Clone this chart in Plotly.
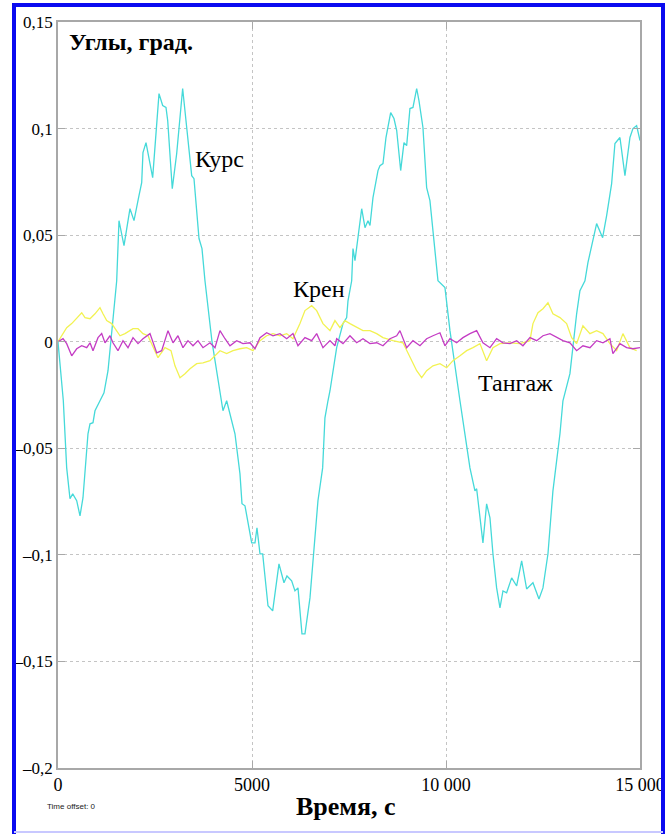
import plotly.graph_objects as go

# ---- data: time (s) and angles (deg) ----
kurs_t = [0, 137, 224, 309, 379, 482, 567, 644, 773, 825,
          902, 953, 1082, 1185, 1289, 1392, 1513, 1572, 1701, 1855,
          1959, 2087, 2157, 2190, 2268, 2440, 2603, 2698, 2783, 2827,
          2945, 3059, 3213, 3317, 3446, 3505, 3634, 3711, 3737, 3788,
          3969, 4123, 4218, 4252, 4347, 4561, 4690, 4742, 4819, 4992,
          5077, 5128, 5206, 5275, 5412, 5533, 5695, 5824, 5901, 6022,
          6107, 6185, 6288, 6365, 6494, 6571, 6700, 6821, 6880, 6958,
          7010, 7182, 7345, 7440, 7474, 7569, 7603, 7654, 7827, 7912,
          7989, 8041, 8118, 8247, 8298, 8376, 8453, 8574, 8659, 8729,
          8832, 8917, 8986, 9071, 9149, 9244, 9303, 9406, 9501, 9586,
          9664, 9793, 9973, 10102, 10360, 10437, 10532, 10617, 10746, 10790,
          10952, 11047, 11133, 11210, 11305, 11391, 11468, 11563, 11692, 11821,
          11950, 12078, 12241, 12396, 12499, 12628, 12756, 12937, 13014, 13194,
          13367, 13452, 13581, 13658, 13882, 14037, 14140, 14269, 14354, 14483,
          14612, 14741, 14818, 14913, 15000]
kurs_v = [0.0, -0.0277, -0.0592, -0.0737, -0.0714, -0.0746, -0.0817, -0.0732, -0.0432, -0.0385,
          -0.0380, -0.0324, -0.0277, -0.0240, -0.0136, 0.0052, 0.0286, 0.0568, 0.0451, 0.0624,
          0.0568, 0.0685, 0.0746, 0.0887, 0.0934, 0.0770, 0.1164, 0.1108, 0.1099, 0.1038,
          0.0718, 0.0883, 0.1188, 0.1005, 0.0779, 0.0765, 0.0484, 0.0437, 0.0371, 0.0286,
          0.0, -0.0183, -0.0277, -0.0324, -0.0277, -0.0432, -0.0620, -0.0760, -0.0770, -0.0944,
          -0.0944, -0.0873, -0.0995, -0.0995, -0.1239, -0.1263, -0.1042, -0.1131, -0.1099, -0.1122,
          -0.1169, -0.1155, -0.1371, -0.1371, -0.1202, -0.1028, -0.0746, -0.0592, -0.0357, -0.0277,
          -0.0230, -0.0028, 0.0085, 0.0113, 0.0192, 0.0286, 0.0437, 0.0380, 0.0624, 0.0535,
          0.0568, 0.0545, 0.0676, 0.0803, 0.0826, 0.0836, 0.0958, 0.1075, 0.1047, 0.0991,
          0.0803, 0.0934, 0.0920, 0.1094, 0.1099, 0.1188, 0.1131, 0.1005, 0.0723, 0.0662,
          0.0521, 0.0286, 0.0254, 0.0052, -0.0277, -0.0371, -0.0498, -0.0592, -0.0700, -0.0690,
          -0.0944, -0.0761, -0.0826, -0.0995, -0.1155, -0.1249, -0.1169, -0.1178, -0.1108, -0.1146,
          -0.1028, -0.1160, -0.1131, -0.1207, -0.1155, -0.0995, -0.0700, -0.0432, -0.0277, -0.0150,
          0.0131, 0.0239, 0.0286, 0.0371, 0.0554, 0.0488, 0.0592, 0.0742, 0.0930, 0.0958,
          0.0779, 0.0958, 0.1000, 0.1014, 0.0944]

kren_t = [0, 224, 353, 482, 611, 696, 825, 953, 1082, 1160,
          1255, 1384, 1469, 1598, 1727, 1855, 1933, 2062, 2190, 2319,
          2448, 2577, 2757, 2912, 3015, 3144, 3273, 3402, 3574, 3737,
          3917, 4046, 4175, 4347, 4510, 4690, 4863, 5025, 5206, 5378,
          5541, 5721, 5894, 6056, 6236, 6365, 6538, 6667, 6829, 7010,
          7138, 7267, 7396, 7525, 7698, 7860, 8040, 8213, 8375, 8633,
          8891, 9071, 9244, 9373, 9501, 9664, 9844, 10017, 10179, 10360,
          10532, 10695, 10875, 11047, 11210, 11391, 11648, 11906, 12163, 12241,
          12370, 12499, 12628, 12756, 12937, 13109, 13238, 13367, 13529, 13710,
          13882, 14045, 14225, 14398, 14560, 14741, 14913]
kren_v = [0.0, 0.0066, 0.0085, 0.0108, 0.0136, 0.0113, 0.0108, 0.0131, 0.0160, 0.0131,
          0.0099, 0.0085, 0.0061, 0.0028, 0.0038, 0.0052, 0.0061, 0.0061, 0.0038, 0.0028,
          -0.0028, -0.0075, -0.0028, -0.0042, -0.0113, -0.0169, -0.0150, -0.0127, -0.0103, -0.0099,
          -0.0089, -0.0066, -0.0042, -0.0056, -0.0042, -0.0033, -0.0028, -0.0042, 0.0005, 0.0028,
          0.0038, 0.0028, 0.0038, 0.0014, 0.0085, 0.0146, 0.0169, 0.0146, 0.0085, 0.0052,
          0.0099, 0.0066, 0.0099, 0.0085, 0.0066, 0.0052, 0.0052, 0.0038, 0.0019, 0.0005,
          -0.0005, -0.0075, -0.0136, -0.0169, -0.0136, -0.0113, -0.0103, -0.0122, -0.0089, -0.0066,
          -0.0042, -0.0028, -0.0009, -0.0089, -0.0028, -0.0009, -0.0005, -0.0009, 0.0005, 0.0085,
          0.0136, 0.0155, 0.0183, 0.0131, 0.0113, 0.0085, 0.0019, -0.0009, 0.0075, 0.0038,
          0.0052, 0.0038, -0.0009, -0.0042, 0.0038, -0.0028, -0.0042]

tang_t = [0, 129, 224, 353, 482, 611, 740, 825, 902, 1031,
          1126, 1211, 1340, 1417, 1546, 1675, 1804, 1933, 2062, 2190,
          2371, 2543, 2672, 2835, 2964, 3092, 3221, 3350, 3479, 3608,
          3737, 3917, 4046, 4175, 4304, 4432, 4605, 4767, 4948, 5077,
          5206, 5378, 5541, 5721, 5894, 6056, 6185, 6365, 6538, 6667,
          6829, 7010, 7138, 7182,
          7345, 7525, 7698, 7860, 8040, 8213, 8375, 8556, 8729, 8813,
          8986, 9149, 9329, 9501, 9664, 9844, 9973, 10102, 10274, 10437,
          10617, 10790, 10952, 11133, 11305, 11468, 11648, 11821, 11983, 12163,
          12336, 12499, 12679, 12851, 13014, 13194, 13367, 13529, 13710, 13882,
          14045, 14225, 14302, 14483, 14655, 14818, 15000]
tang_v = [0.0, 0.0014, -0.0009, -0.0066, -0.0033, -0.0019, -0.0028, -0.0005, -0.0042, 0.0019,
          0.0038, -0.0005, 0.0028, -0.0005, -0.0042, 0.0005, -0.0028, 0.0019, -0.0009, 0.0014,
          0.0038, -0.0052, -0.0042, 0.0052, -0.0005, 0.0028, -0.0028, 0.0005, -0.0019, 0.0005,
          -0.0028, -0.0005, -0.0028, 0.0052, 0.0014, -0.0019, 0.0005, -0.0009, -0.0005, -0.0033,
          0.0019, 0.0042, 0.0028, 0.0038, 0.0014, 0.0038, -0.0019, 0.0019, 0.0005, 0.0038,
          -0.0028, 0.0005, -0.0019, 0.0014,
          -0.0009, 0.0028, -0.0005, 0.0014, -0.0009, -0.0005, -0.0019, 0.0014, 0.0028, 0.0052,
          -0.0028, 0.0005, -0.0019, 0.0014, 0.0028, 0.0042, -0.0019, 0.0014, -0.0005, 0.0019,
          0.0038, 0.0052, -0.0005, -0.0028, 0.0014, -0.0005, -0.0009, 0.0005, -0.0019, 0.0019,
          0.0005, 0.0028, 0.0038, 0.0019, 0.0005, -0.0005, -0.0042, -0.0019, -0.0028, 0.0005,
          -0.0005, 0.0014, -0.0056, -0.0009, -0.0028, -0.0033, -0.0028]

x_ticks = [0, 5000, 10000, 15000]
x_tick_text = ["0", "5000", "10 000", "15 000"]
y_ticks = [0.15, 0.1, 0.05, 0, -0.05, -0.1, -0.15, -0.2]
y_tick_text = ["0,15", "0,1", "0,05", "0", "–0,05", "–0,1", "–0,15", "–0,2"]

SERIF = "Liberation Serif"
W, H = 666, 834
L, R, T, B = 58, 640, 22, 768   # plot area in pixels


def px(x):
    return (x - L) / (R - L)


def py(y):
    return (B - y) / (B - T)


fig = go.Figure()
fig.add_trace(go.Scatter(x=kurs_t, y=kurs_v, mode="lines", name="Курс",
                         line=dict(color="#45D9D9", width=1.3)))
fig.add_trace(go.Scatter(x=kren_t, y=kren_v, mode="lines", name="Крен",
                         line=dict(color="#F2F252", width=1.3)))
fig.add_trace(go.Scatter(x=tang_t, y=tang_v, mode="lines", name="Тангаж",
                         line=dict(color="#C43CC4", width=1.3)))

axis_common = dict(
    automargin=False,
    showline=True, linecolor="#A8A8A8", linewidth=1.5, mirror="ticks",
    ticks="inside", ticklen=7, tickcolor="#A8A8A8", tickwidth=1,
    showgrid=True, gridcolor="#C4C4C4", gridwidth=1, griddash="dot",
    zeroline=False,
)

fig.update_layout(
    width=W, height=H,
    margin=dict(l=L, r=W - R, t=T, b=H - B, autoexpand=False),
    paper_bgcolor="white", plot_bgcolor="white",
    showlegend=False,
    xaxis=dict(range=[0, 15000], tickvals=x_ticks, ticktext=x_tick_text,
               tickfont=dict(family=SERIF, size=18, color="black"), **axis_common),
    yaxis=dict(range=[-0.2, 0.15], tickvals=y_ticks, ticktext=y_tick_text,
               tickfont=dict(family=SERIF, size=17, color="black"), **axis_common),
)

# series labels
for text, x, y in [("Курс", 4175, 0.0859), ("Крен", 6726, 0.0249), ("Тангаж", 11803, -0.0192)]:
    fig.add_annotation(x=x, y=y, xref="x", yref="y", text=text, showarrow=False,
                       font=dict(family=SERIF, size=24, color="black"))

# axis captions
fig.add_annotation(x=px(67), y=py(42), xref="paper", yref="paper", text="<b>Углы, град.</b>",
                   showarrow=False, xanchor="left", yanchor="middle",
                   font=dict(family=SERIF, size=24, color="black"))
fig.add_annotation(x=px(346), y=py(806), xref="paper", yref="paper", text="<b>Время, с</b>",
                   showarrow=False, xanchor="center", yanchor="middle",
                   font=dict(family=SERIF, size=26, color="black"))
fig.add_annotation(x=px(45), y=py(806), xref="paper", yref="paper", text="Time offset: 0",
                   showarrow=False, xanchor="left", yanchor="middle",
                   font=dict(family="Liberation Sans", size=8, color="#222222"))

# frame around the figure
blue = "#0A0AF0"
for x0, y0, x1, y1 in [(14, 5, 663, 5), (14, 3, 14, 834), (663, 3, 663, 834)]:
    fig.add_shape(type="line", xref="paper", yref="paper",
                  x0=px(x0), y0=py(y0), x1=px(x1), y1=py(y1),
                  line=dict(color=blue, width=4))
fig.add_shape(type="line", xref="paper", yref="paper",
              x0=px(14), y0=py(832), x1=px(663), y1=py(832),
              line=dict(color="#C8C8FF", width=2))

fig.write_html("out.html")
